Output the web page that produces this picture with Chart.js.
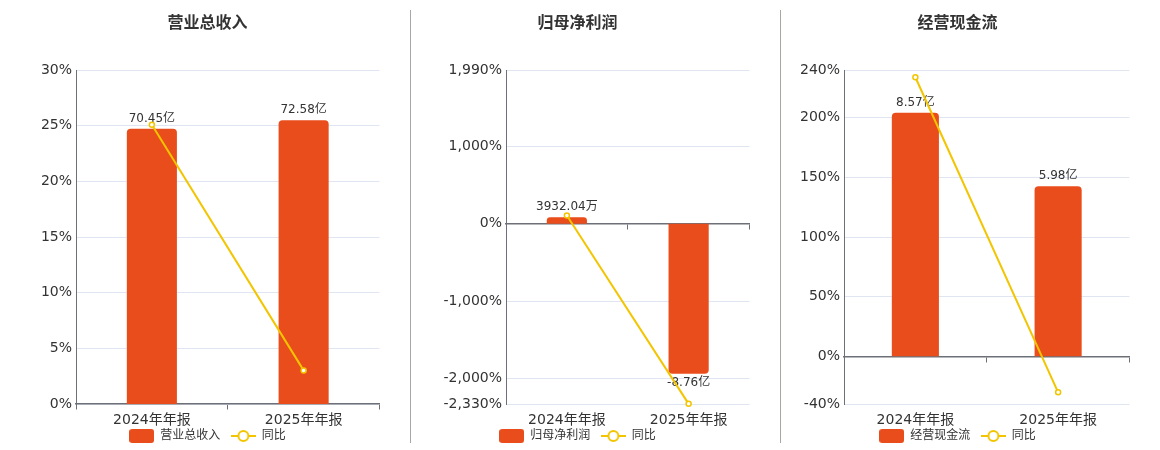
<!DOCTYPE html>
<html lang="zh-CN">
<head>
<meta charset="utf-8">
<title>营业总收入 / 归母净利润 / 经营现金流</title>
<script src="https://cdn.jsdelivr.net/npm/chart.js@4.4.1/dist/chart.umd.min.js"></script>
<style>
  html, body { margin: 0; padding: 0; background: #fff; }
  body { width: 1160px; height: 450px; position: relative; overflow: hidden; }
  .panel { position: absolute; top: 0; width: 350px; height: 452px; }
  .divider { position: absolute; top: 10px; width: 1px; height: 433px; background: #a8a8a2; }
</style>
</head>
<body>
<div class="divider" style="left:410px"></div>
<div class="divider" style="left:780px"></div>
<div class="panel" style="left:35px"><canvas id="revenueChart"></canvas></div>
<div class="panel" style="left:405px"><canvas id="profitChart"></canvas></div>
<div class="panel" style="left:785px"><canvas id="cashChart"></canvas></div>
<script>
const categories = ["2024年年报", "2025年年报"];

// values in 亿, yoy in %
const revenue = [70.45, 72.58];
const revenueYoY = [25.09, 3.02];
const revenueTicks = [0, 5, 10, 15, 20, 25, 30];

const netProfit = [0.393204, -8.76];
const netProfitYoY = [108, -2327.9];
const netProfitTicks = [-2330, -2000, -1000, 0, 1000, 1990];

const cashFlow = [8.57, 5.98];
const cashFlowYoY = [233.9, -30.22];
const cashFlowTicks = [-40, 0, 50, 100, 150, 200, 240];

const FONT = "'DejaVu Sans', 'Noto Sans CJK SC', sans-serif";
const BAR_COLOR = "#e94d1c";
const LINE_COLOR = "#f2c500";
const AXIS_COLOR = "#6e7079";
const GRID_COLOR = "#e0e6f1";
const TEXT_COLOR = "#333";

Chart.defaults.font.family = FONT;

function fmtAmount(v) {
  if (Math.abs(v) < 1) return (v * 10000).toFixed(2) + "万";
  return v.toFixed(2) + "亿";
}

// little pictures used as legend symbols
function swatch(draw) {
  const c = document.createElement("canvas");
  c.width = 25;
  c.height = 14;
  draw(c.getContext("2d"));
  return c;
}
const barSwatch = swatch(ctx => {
  ctx.fillStyle = BAR_COLOR;
  ctx.beginPath();
  ctx.roundRect(0, 0, 25, 14, 3);
  ctx.fill();
});
const lineSwatch = swatch(ctx => {
  ctx.strokeStyle = LINE_COLOR;
  ctx.lineWidth = 2;
  ctx.beginPath();
  ctx.moveTo(0, 7);
  ctx.lineTo(25, 7);
  ctx.stroke();
  ctx.beginPath();
  ctx.arc(12.5, 7, 5, 0, Math.PI * 2);
  ctx.fillStyle = "#fff";
  ctx.fill();
  ctx.stroke();
});

// value labels on the bars, drawn before the line so the line sits on top
const barValueLabels = {
  id: "barValueLabels",
  afterDatasetDraw(chart, args) {
    if (args.meta.type !== "bar") return;
    const ctx = chart.ctx;
    const values = chart.data.datasets[args.index].data;
    ctx.save();
    ctx.font = "12px " + FONT;
    ctx.fillStyle = TEXT_COLOR;
    ctx.textAlign = "center";
    ctx.textBaseline = "middle";
    args.meta.data.forEach((bar, i) => {
      const v = values[i];
      ctx.fillText(fmtAmount(v), bar.x, v >= 0 ? bar.y - 10 : bar.y + 9);
    });
    ctx.restore();
  }
};

function buildChart(id, o) {
  return new Chart(document.getElementById(id), {
    type: "bar",
    data: {
      labels: categories,
      datasets: [
        {
          label: o.name,
          data: o.values,
          yAxisID: "y1",
          order: 1,
          backgroundColor: BAR_COLOR,
          borderRadius: 4,
          barPercentage: 0.33,
          categoryPercentage: 1
        },
        {
          type: "line",
          label: "同比",
          data: o.yoy,
          yAxisID: "y",
          order: 0,
          borderColor: LINE_COLOR,
          borderWidth: 2,
          pointRadius: 2.5,
          pointBackgroundColor: "#fff",
          pointBorderColor: LINE_COLOR,
          pointBorderWidth: 1.5,
          tension: 0,
          clip: false
        }
      ]
    },
    options: {
      responsive: true,
      maintainAspectRatio: false,
      animation: false,
      layout: { padding: { left: 0, right: 5, top: 0, bottom: 0 } },
      plugins: {
        title: {
          display: true,
          text: o.name,
          color: TEXT_COLOR,
          font: { size: 16, weight: "bold" },
          padding: { top: 14.4, bottom: 36.4 }
        },
        legend: {
          position: "bottom",
          labels: {
            usePointStyle: true,
            pointStyleWidth: 25,
            boxHeight: 12,
            padding: 3,
            color: TEXT_COLOR,
            font: { size: 12 },
            sort: (a, b) => a.datasetIndex - b.datasetIndex,
            // trailing spaces widen the gap before the 同比 item
            generateLabels: chart =>
              Chart.defaults.plugins.legend.labels.generateLabels(chart).map(item => ({
                ...item,
                text: item.datasetIndex === 0 ? item.text + "  " : item.text,
                pointStyle: item.datasetIndex === 0 ? barSwatch : lineSwatch
              }))
          }
        },
        tooltip: { enabled: false }
      },
      scales: {
        x: {
          offset: true,
          grid: { display: false, drawTicks: false },
          border: { display: false },
          ticks: { padding: 9, color: TEXT_COLOR, font: { size: 14, lineHeight: 1 } },
          afterFit: s => { s.height = 23; }
        },
        // axis line + ticks sitting on the zero value
        x0: {
          type: "category",
          position: { y: 0 },
          offset: true,
          grid: { offset: true, drawOnChartArea: false, drawTicks: true, tickLength: 5, color: AXIS_COLOR, lineWidth: 1 },
          border: { color: AXIS_COLOR, width: 1.5 },
          ticks: { display: false }
        },
        y: {
          position: "left",
          min: o.ticks[0],
          max: o.ticks[o.ticks.length - 1],
          grid: { color: GRID_COLOR, drawTicks: false },
          border: { color: AXIS_COLOR, width: 1 },
          ticks: {
            padding: 4,
            color: TEXT_COLOR,
            font: { size: 14 },
            callback: v => v.toLocaleString("en-US") + "%"
          },
          afterBuildTicks: s => { s.ticks = o.ticks.map(v => ({ value: v })); },
          afterFit: s => { s.width = o.axisWidth; }
        },
        y1: { display: false, min: o.barRange[0], max: o.barRange[1] }
      }
    },
    plugins: [barValueLabels]
  });
}

buildChart("revenueChart", {
  name: "营业总收入",
  values: revenue,
  yoy: revenueYoY,
  ticks: revenueTicks,
  barRange: [0, 85.45],
  axisWidth: 41
});

buildChart("profitChart", {
  name: "归母净利润",
  values: netProfit,
  yoy: netProfitYoY,
  ticks: netProfitTicks,
  barRange: [-10.53, 8.995],
  axisWidth: 101
});

buildChart("cashChart", {
  name: "经营现金流",
  values: cashFlow,
  yoy: cashFlowYoY,
  ticks: cashFlowTicks,
  barRange: [-1.679, 10.07],
  axisWidth: 59
});
</script>
</body>
</html>
